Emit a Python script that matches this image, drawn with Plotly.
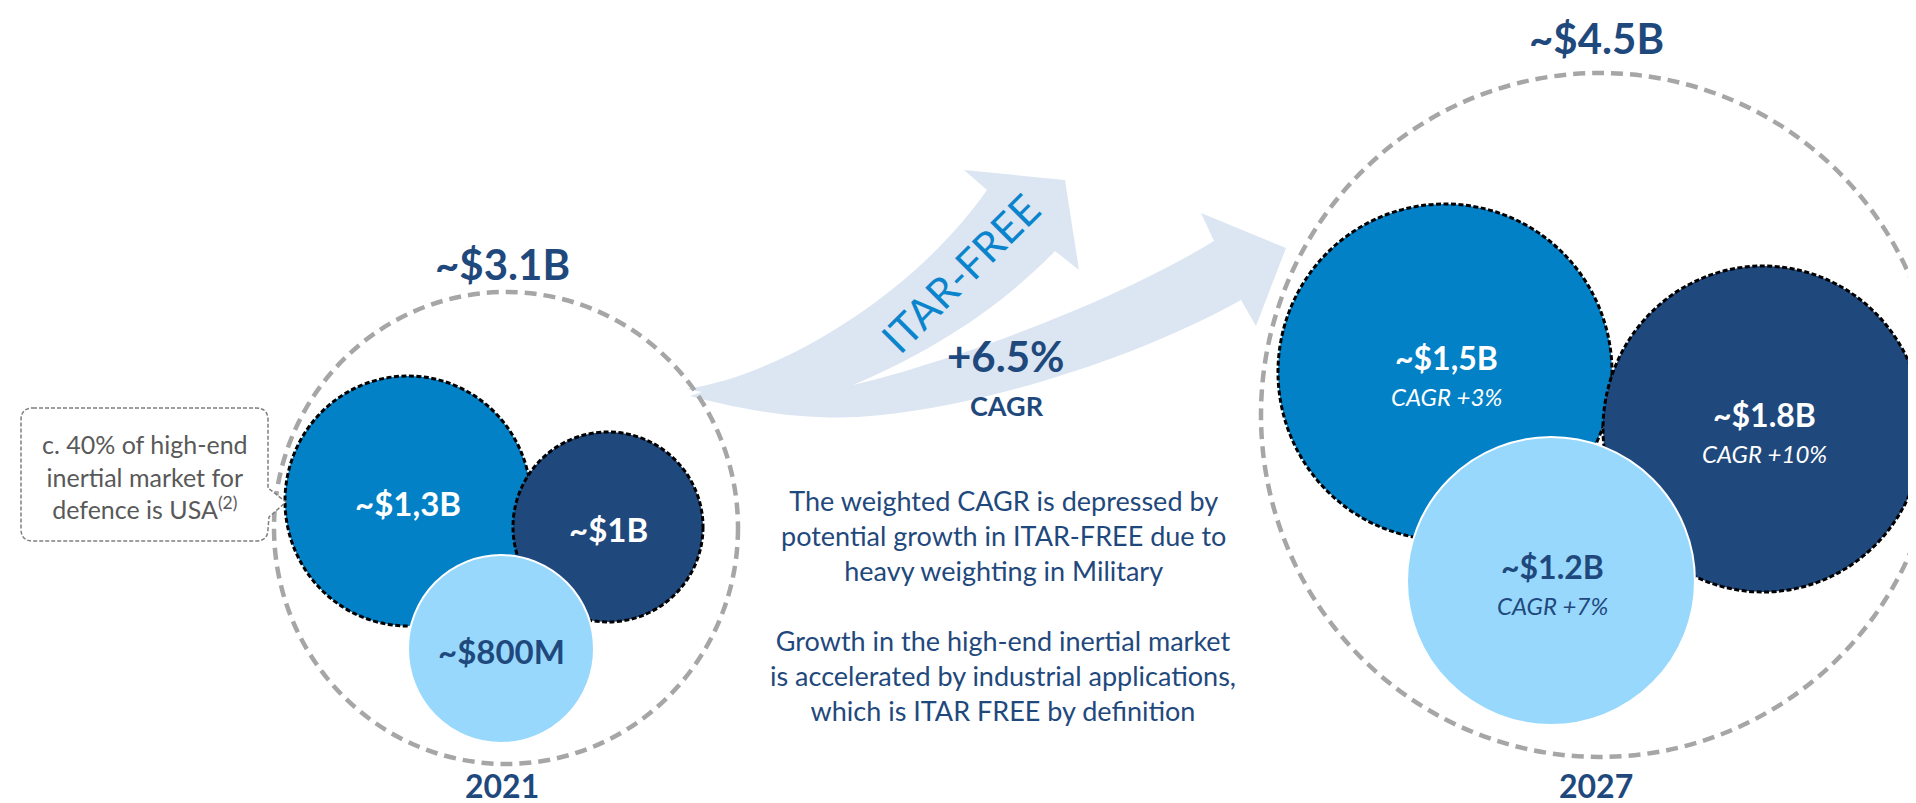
import plotly.graph_objects as go

# ---- data ----
years = ["2021", "2027"]
totals = ["~$3.1B", "~$4.5B"]
labels_2021 = ["~$1,3B", "~$1B", "~$800M"]
labels_2027 = ["~$1,5B", "~$1.8B", "~$1.2B"]
cagr_2027 = ["CAGR +3%", "CAGR +10%", "CAGR +7%"]
growth_value = "+6.5%"
growth_label = "CAGR"
arrow_label = "ITAR-FREE"
callout_lines = ["c. 40% of high-end", "inertial market for", "defence is USA<sup>(2)</sup>"]
note_1 = ["The weighted CAGR is depressed by",
          "potential growth in ITAR-FREE due to",
          "heavy weighting in Military"]
note_2 = ["Growth in the high-end inertial market",
          "is accelerated by industrial applications,",
          "which is ITAR FREE by definition"]

# ---- layout / styles ----
W, H = 1916, 803
NAVY = "#1F497D"
MID = "#0281C6"
LIGHT = "#98D8FC"
ARROW = "#DCE6F2"
GRAY = "#A6A6A6"
FONT = "Lato"

# outer rings: (cx, cy, rx, ry)
rings = [(498, 520, 232, 236), (1592, 407, 339, 342)]
# bubbles: (cx, cy, rx, ry, fill, border)
bubbles_2021 = [(400, 493, 123, 125, MID, "dash"),
                (600, 519, 95, 95, NAVY, "dash"),
                (493, 641, 93, 94, LIGHT, "white")]
bubbles_2027 = [(1437, 364, 167, 168, MID, "dash"),
                (1755, 421, 160, 163, NAVY, "dash"),
                (1543, 573, 144, 144, LIGHT, "white")]
label_colors = ["white", "white", NAVY]

fig = go.Figure()

# growth arrows (two arrows sharing one tail)
arrow_path = (
    "M 678 381 "
    "C 770 368 905 288 979 182 "
    "L 956 162 L 1057 172 L 1071 262 L 1047 243 "
    "C 990 302 920 345 845 377 "
    "C 950 352 1110 292 1206 233 "
    "L 1193 205 L 1278 240 L 1248 318 L 1233 292 "
    "C 1120 355 960 402 850 409 "
    "C 780 412 720 398 682 388 "
    "L 694 384 Z"
)
fig.add_shape(type="path", path=arrow_path, fillcolor=ARROW, line=dict(width=0))

# outer dashed rings
for cx, cy, rx, ry in rings:
    fig.add_shape(type="circle", x0=cx - rx, x1=cx + rx, y0=cy - ry, y1=cy + ry,
                  line=dict(color=GRAY, width=4.5, dash="12px,7px"))

# bubbles
for group in (bubbles_2021, bubbles_2027):
    for cx, cy, rx, ry, fill, border in group:
        if border == "dash":
            ln = dict(color="black", width=3, dash="5px,2.5px")
        else:
            ln = dict(color="white", width=2)
        fig.add_shape(type="circle", x0=cx - rx, x1=cx + rx, y0=cy - ry, y1=cy + ry,
                      fillcolor=fill, line=ln)

# callout box with pointer
callout_path = (
    "M 25 400 L 248 400 Q 260 400 260 412 L 260 480 L 278 494 L 261 509 "
    "L 260 521 Q 260 533 248 533 L 25 533 Q 13 533 13 521 L 13 412 Q 13 400 25 400 Z"
)
fig.add_shape(type="path", path=callout_path, fillcolor="white",
              line=dict(color="#7F7F7F", width=1.5, dash="4px,2px"))


def txt(x, y, text, size, color, bold=False, italic=False, angle=0):
    if bold:
        text = "<b>" + text + "</b>"
    if italic:
        text = "<i>" + text + "</i>"
    fig.add_annotation(x=x, y=y, xref="x", yref="y", text=text, showarrow=False,
                       xanchor="center", yanchor="middle", textangle=angle,
                       font=dict(family=FONT, size=size, color=color))


# totals and years
for (cx, cy, rx, ry), total, year in zip(rings, totals, years):
    txt(cx - 4, cy - ry - 28 if year == "2021" else 30, total, 42, NAVY, bold=True)
    txt(cx - 4, 777, year, 32, NAVY, bold=True)

# 2021 bubble labels
for (cx, cy, rx, ry, fill, border), lab, col in zip(bubbles_2021, labels_2021, label_colors):
    txt(cx, cy + 2, lab, 33, col, bold=True)

# 2027 bubble labels
for (cx, cy, rx, ry, fill, border), lab, cg, col in zip(bubbles_2027, labels_2027, cagr_2027, label_colors):
    txt(cx + 1, cy - 15, lab, 32, col, bold=True)
    txt(cx + 1, cy + 24, cg, 24, col, italic=True)

# arrow texts
txt(952, 265, arrow_label, 42, "#0A84CC", angle=-45)
txt(997, 348, growth_value, 42, NAVY, bold=True)
txt(999, 397, growth_label, 27, NAVY, bold=True)

# notes
txt(995, 527, "<br>".join(note_1), 27, NAVY)
txt(995, 667, "<br>".join(note_2), 27, NAVY)

# callout text
txt(137, 468, "<br>".join(callout_lines), 25, "#595959")

fig.update_layout(
    width=W, height=H,
    margin=dict(l=0, r=0, t=0, b=0),
    paper_bgcolor="white", plot_bgcolor="white",
    showlegend=False,
    xaxis=dict(range=[0, W], visible=False, fixedrange=True),
    yaxis=dict(range=[H, 0], visible=False, fixedrange=True),
)

fig.write_html("out.html")
